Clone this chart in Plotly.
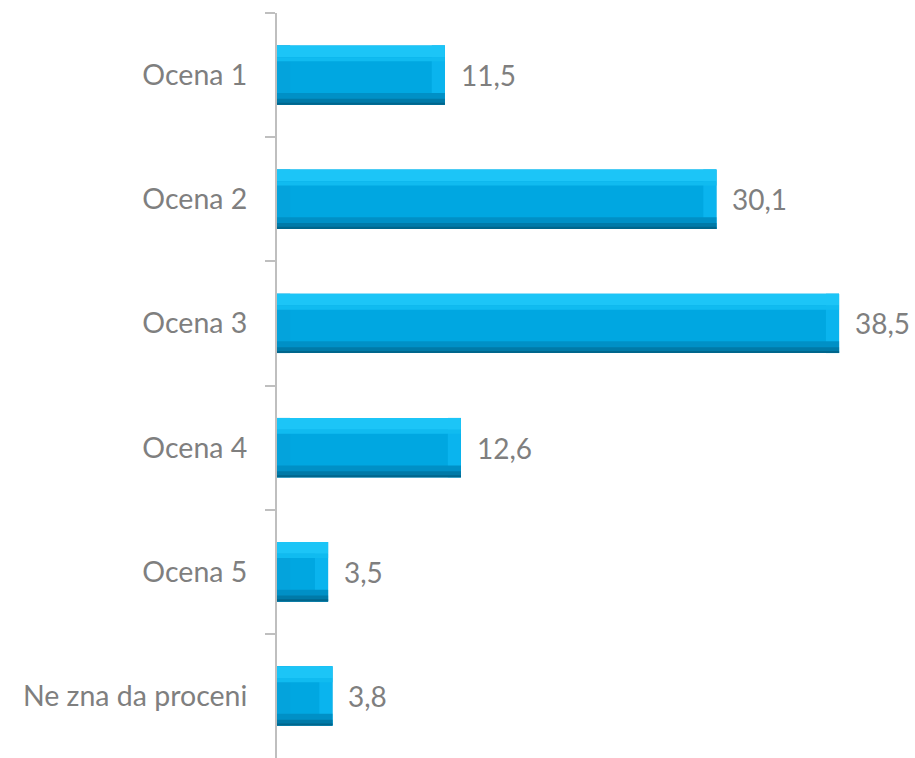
import plotly.graph_objects as go

categories = ["Ocena 1", "Ocena 2", "Ocena 3", "Ocena 4", "Ocena 5", "Ne zna da proceni"]
values = [11.5, 30.1, 38.5, 12.6, 3.5, 3.8]
value_labels = ["11,5", "30,1", "38,5", "12,6", "3,5", "3,8"]

BW = 0.478          # bar thickness in category units
EV = 0.095          # vertical bevel thickness (category units)
EH = 0.9            # horizontal bevel thickness (value units)

fig = go.Figure()

def bar(x, color, width, offset, base=None):
    fig.add_trace(go.Bar(
        y=categories, x=x, base=base, orientation="h",
        width=width, offset=offset,
        marker=dict(color=color, line=dict(width=0)),
        hoverinfo="skip", showlegend=False,
    ))

# body
bar(values, "#00a7e1", BW, -BW / 2)
# left & right bevel edges
bar([EH] * len(values), "#04a3dc", BW, -BW / 2, base=[0] * len(values))
bar([EH] * len(values), "#0ab4ee", BW, -BW / 2, base=[v - EH for v in values])
# top highlight
bar(values, "#1cc5f7", EV, -BW / 2)
bar(values, "#10bbf0", EV * 0.35, -BW / 2 + EV)
# bottom shade
bar(values, "#0090c6", EV, BW / 2 - EV)
bar(values, "#007aa8", EV * 0.5, BW / 2 - EV * 0.5)
bar(values, "#00668c", EV * 0.18, BW / 2 - EV * 0.18)

for c, v, t in zip(categories, values, value_labels):
    fig.add_annotation(x=v, y=c, text=t, showarrow=False, xanchor="left",
                       xshift=14, font=dict(size=28, color="#7f7f7f", family="Lato"))

fig.update_layout(
    width=915, height=758,
    margin=dict(l=277, r=0, t=13, b=0),
    barmode="overlay",
    plot_bgcolor="white", paper_bgcolor="white",
    font=dict(family="Lato", size=28, color="#7f7f7f"),
    xaxis=dict(range=[0, 43.7], visible=False, fixedrange=True),
    yaxis=dict(
        type="category", categoryorder="array", categoryarray=categories,
        range=[5.5, -0.5], fixedrange=True,
        tickson="boundaries", ticks="outside", ticklen=10, tickcolor="#bfbfbf", tickwidth=2,
        showline=True, linecolor="#bfbfbf", linewidth=2,
        showgrid=False, zeroline=False,
        ticklabelstandoff=22,
        tickfont=dict(size=28.5, color="#7f7f7f", family="Lato"),
    ),
)

fig.write_html(
    "out.html",
    config={"displayModeBar": False},
    post_script="document.body.style.margin='0';document.body.style.overflow='hidden';",
)
